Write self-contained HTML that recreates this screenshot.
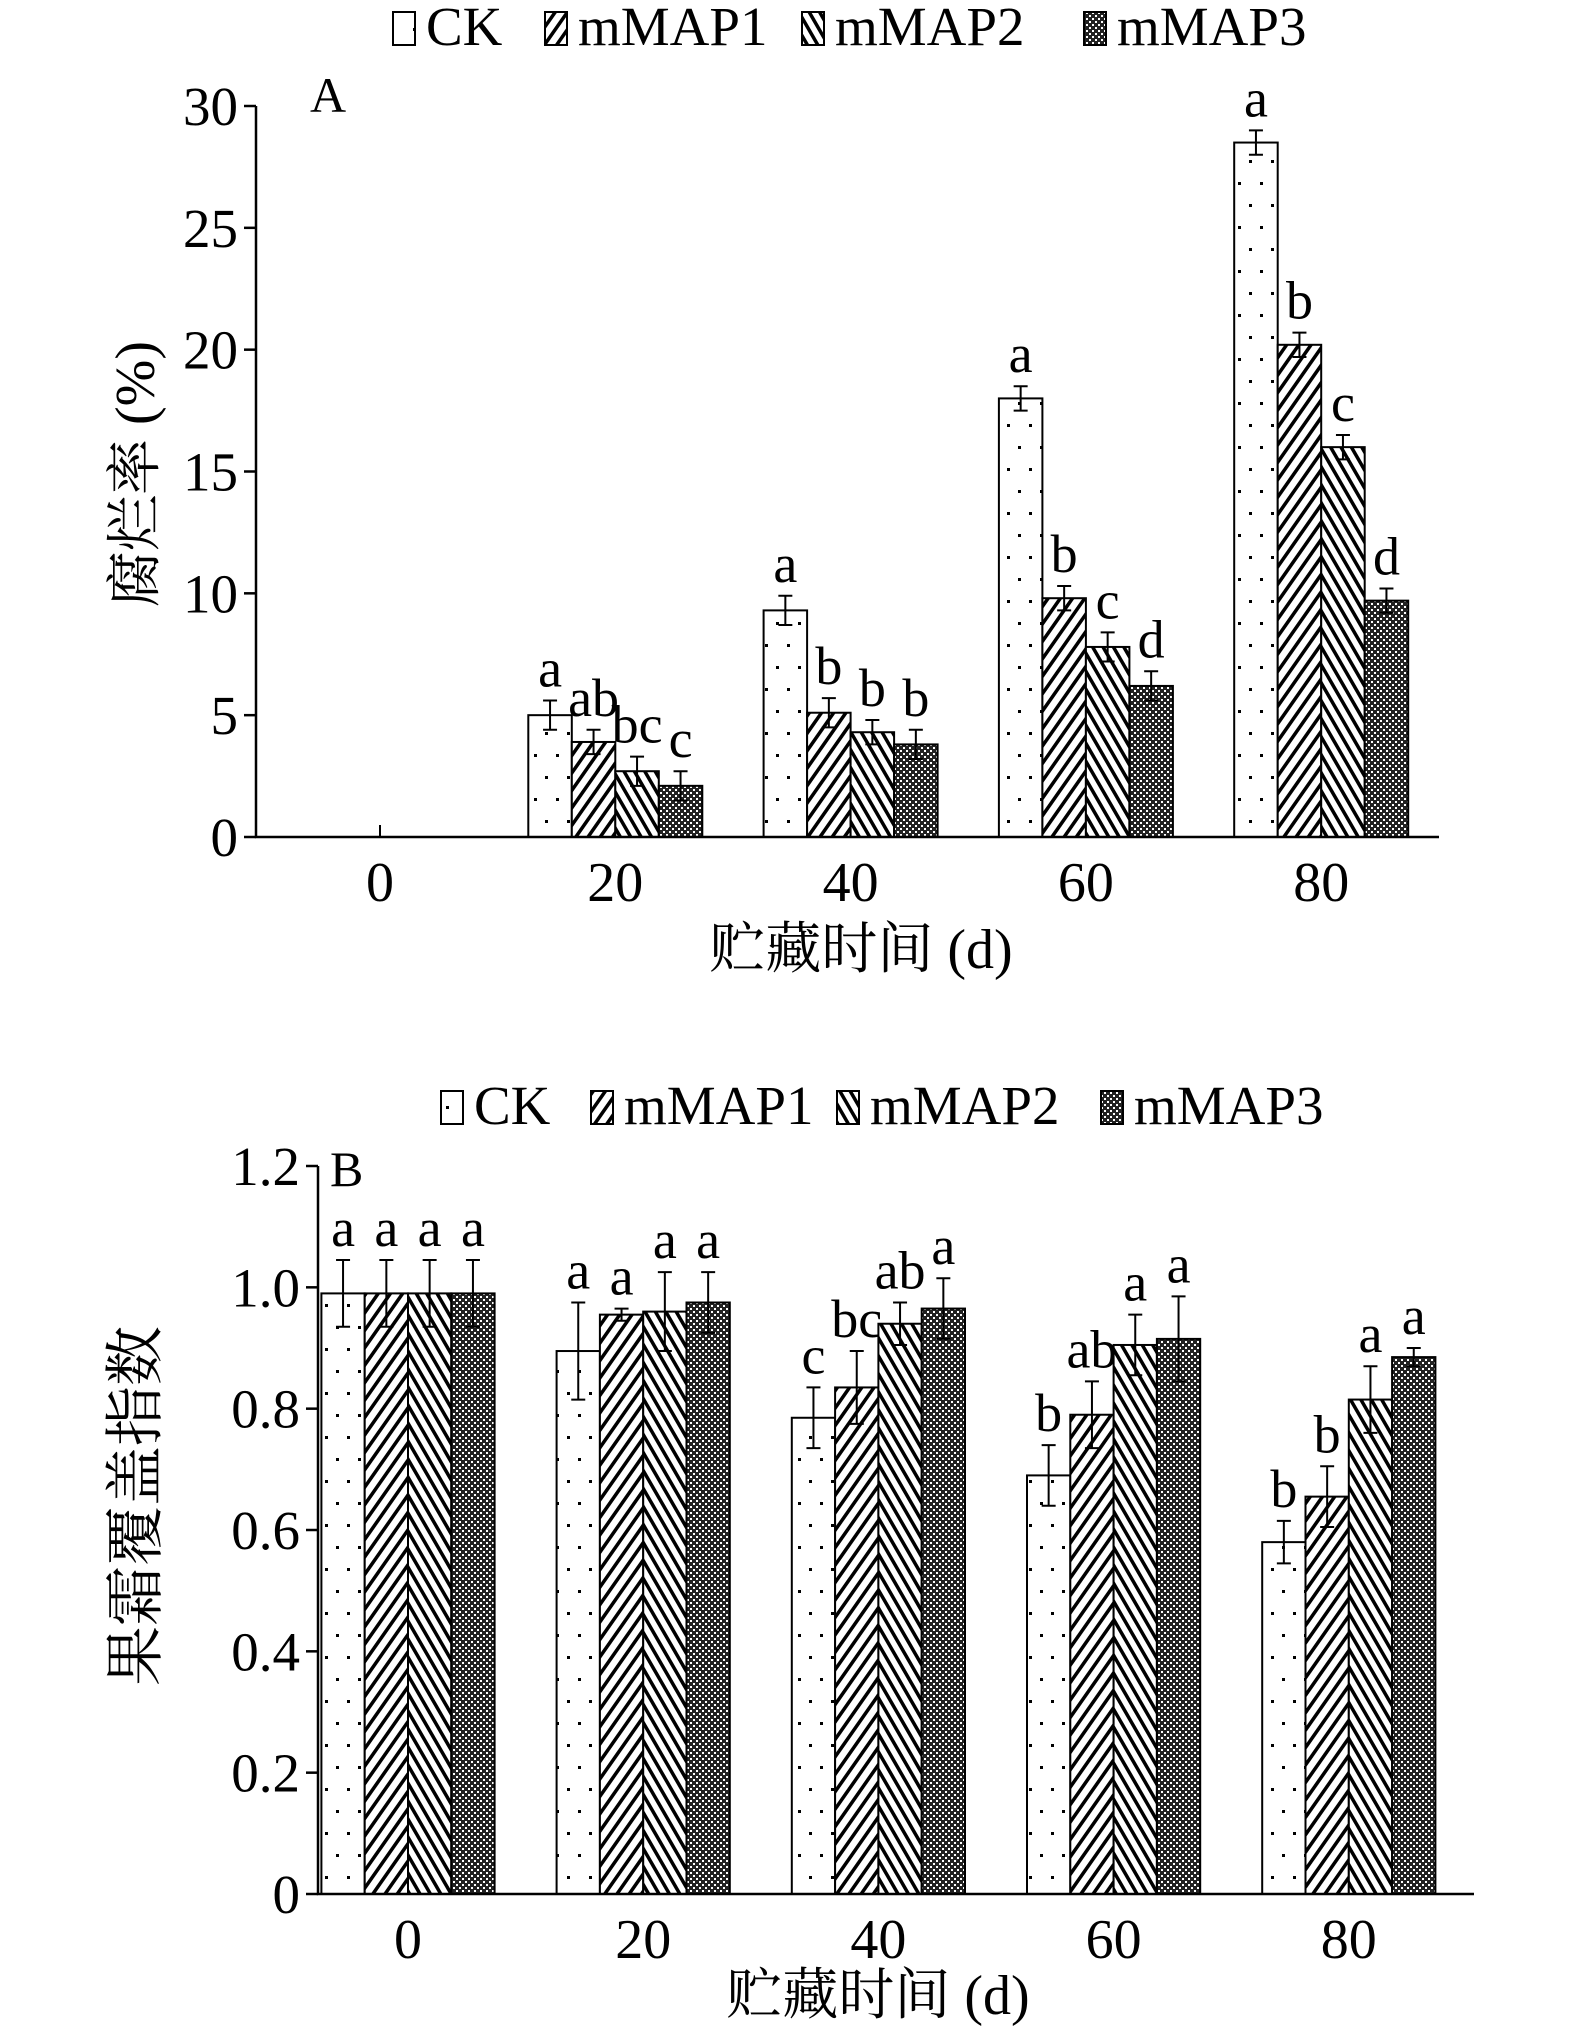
<!DOCTYPE html>
<html><head><meta charset="utf-8"><style>
html,body{margin:0;padding:0;background:#fff;}
svg{display:block;font-family:"Liberation Serif","Noto Serif CJK SC",serif;}
</style></head><body>
<svg id="svg" width="1575" height="2028" viewBox="0 0 1575 2028" xmlns="http://www.w3.org/2000/svg">
<defs>
<pattern id="pCK" width="22" height="44" patternUnits="userSpaceOnUse"><rect width="22" height="44" fill="#fff"/><rect x="6" y="6" width="3" height="3" fill="#000"/><rect x="17" y="28" width="3" height="3" fill="#000"/></pattern>
<pattern id="pM1" width="10" height="10" patternUnits="userSpaceOnUse" patternTransform="rotate(35)"><rect width="10" height="10" fill="#fff"/><rect width="3.5" height="10" fill="#000"/></pattern>
<pattern id="pM2" width="9" height="9" patternUnits="userSpaceOnUse" patternTransform="rotate(-30)"><rect width="9" height="9" fill="#fff"/><rect width="3.5" height="9" fill="#000"/></pattern>
<pattern id="pM3" width="6" height="6" patternUnits="userSpaceOnUse"><rect width="6" height="6" fill="#222"/><rect x="0" y="0" width="2" height="2" fill="#fff"/><rect x="3" y="3" width="2" height="2" fill="#fff"/></pattern>
</defs>
</svg>
<script>
const seriesNames=["CK","mMAP1","mMAP2","mMAP3"];
const fills=["url(#pCK)","url(#pM1)","url(#pM2)","url(#pM3)"];
const days=[0,20,40,60,80];
// Chart A
const aCK=[0,5.0,9.3,18.0,28.5];
const aM1=[0,3.9,5.1,9.8,20.2];
const aM2=[0,2.7,4.3,7.8,16.0];
const aM3=[0,2.1,3.8,6.2,9.7];
const aErrCK=[0,0.6,0.6,0.5,0.5];
const aErrM1=[0,0.5,0.6,0.5,0.5];
const aErrM2=[0,0.6,0.5,0.6,0.5];
const aErrM3=[0,0.6,0.6,0.6,0.5];
const aLetters=[["","","",""],["a","ab","bc","c"],["a","b","b","b"],["a","b","c","d"],["a","b","c","d"]];
const aTicks=[0,5,10,15,20,25,30];
// Chart B
const bCK=[0.99,0.895,0.785,0.69,0.58];
const bM1=[0.99,0.955,0.835,0.79,0.655];
const bM2=[0.99,0.96,0.94,0.905,0.815];
const bM3=[0.99,0.975,0.965,0.915,0.885];
const bErrCK=[0.055,0.08,0.05,0.05,0.035];
const bErrM1=[0.055,0.01,0.06,0.055,0.05];
const bErrM2=[0.055,0.065,0.035,0.05,0.055];
const bErrM3=[0.055,0.05,0.05,0.07,0.015];
const bLetters=[["a","a","a","a"],["a","a","a","a"],["c","bc","ab","a"],["b","ab","a","a"],["b","b","a","a"]];
const bTicks=["0","0.2","0.4","0.6","0.8","1.0","1.2"];

const svg=document.getElementById('svg');
const NS="http://www.w3.org/2000/svg";
function mk(tag,attrs,parent){const e=document.createElementNS(NS,tag);for(const k in attrs)e.setAttribute(k,attrs[k]);(parent||svg).appendChild(e);return e;}

function chart(o){
  const g=mk('g',{});
  
  
  const y=v=>o.y0-(v/o.vmax)*(o.y0-o.ytop);
  const gx=i=>o.gx0+i*o.gstep;
  const vals=o.vals, errs=o.errs;
  for(let i=0;i<days.length;i++){
    for(let s=0;s<4;s++){
      const v=vals[s][i]; if(v<=0) continue;
      const x=gx(i)-o.bw*2+s*o.bw;
      const r=mk('rect',{x:x,y:y(v),width:o.bw,height:o.y0-y(v),fill:fills[s],stroke:'#000','stroke-width':2},g);
      
      
      const cx=x+o.bw/2, e=errs[s][i];
      const eb=mk('path',{d:`M${cx} ${y(v-e)}V${y(v+e)}M${cx-7} ${y(v-e)}H${cx+7}M${cx-7} ${y(v+e)}H${cx+7}`,stroke:'#000','stroke-width':2,fill:'none'},g);
      
      
      const L=o.letters[i][s];
      if(L){const t=mk('text',{x:cx,y:y(v+e)-14,'font-size':54,'text-anchor':'middle'},g);t.textContent=L;
        
        }
    }
  }
  const ax=mk('path',{d:`M${o.ax} ${o.ytop}V${o.y0}H${o.axEnd}`,stroke:'#000','stroke-width':2.5,fill:'none'},g);
  
  
  o.ticks.forEach((t,k)=>{
    const v=k*o.vmax/(o.ticks.length-1);
    mk('line',{x1:o.ax-12,x2:o.ax,y1:y(v),y2:y(v),stroke:'#000','stroke-width':2.5},g);
    const tx=mk('text',{x:o.ax-18,y:y(v)+19,'font-size':55,'text-anchor':'end'},g);
    tx.textContent=t;
    
    
  });
  days.forEach((d,i)=>{
    const tx=mk('text',{x:gx(i),y:o.y0+64,'font-size':56,'text-anchor':'middle'},g);
    tx.textContent=d;
    
    
  });
  if(o.zeroTick) mk('line',{x1:gx(0),x2:gx(0),y1:o.y0,y2:o.y0-12,stroke:'#000','stroke-width':2},g);
  const xt=mk('text',{x:o.xtX,y:o.xtY,'font-size':56,'text-anchor':'middle'},g);
  xt.textContent='贮藏时间 (d)';
  
  
  const yt=mk('text',{x:0,y:0,'font-size':o.ytSize,'text-anchor':'middle',transform:`translate(${o.ytX},${o.ytY}) rotate(-90)`},g);
  yt.textContent=o.ytitle;
  
  
  const pl=mk('text',{x:o.plX,y:o.plY,'font-size':50},g);
  pl.textContent=o.panel;
  
  
  const lg=mk('g',{},g);
  
  
  o.legX.forEach((lx,s)=>{
    const e=mk('g',{},lg);
    
    
    mk('rect',{x:lx,y:o.legY-33,width:22,height:33,fill:fills[s],stroke:'#000','stroke-width':2},e);
    const t=mk('text',{x:lx+33,y:o.legY,'font-size':55},e);t.textContent=seriesNames[s];
  });
}
chart({name:'chart-a-decay-rate',vals:[aCK,aM1,aM2,aM3],errs:[aErrCK,aErrM1,aErrM2,aErrM3],letters:aLetters,ticks:aTicks,
  vmax:30,ytop:106,y0:837,ax:256,axEnd:1439,gx0:380,gstep:235.3,bw:43.5,zeroTick:true,
  xtX:861,xtY:968,ytX:154,ytY:474,ytSize:56,ytitle:'腐烂率 (%)',plX:310,plY:112,panel:'A',
  legX:[393,545,802,1084],legY:45});
chart({name:'chart-b-bloom-index',vals:[bCK,bM1,bM2,bM3],errs:[bErrCK,bErrM1,bErrM2,bErrM3],letters:bLetters,ticks:bTicks,
  vmax:1.2,ytop:1166,y0:1894,ax:318,axEnd:1474,gx0:408,gstep:235.2,bw:43.3,zeroTick:false,
  xtX:878,xtY:2014,ytX:156,ytY:1506,ytSize:60,ytitle:'果霜覆盖指数',plX:330,plY:1186,panel:'B',
  legX:[441,591,837,1101],legY:1124});
</script>
</body></html>
